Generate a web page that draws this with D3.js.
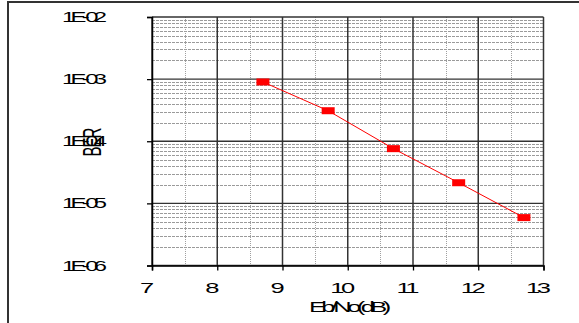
<!DOCTYPE html>
<html><head><meta charset="utf-8">
<script src="https://cdn.jsdelivr.net/npm/d3@7"></script>
<style>body{margin:0;background:#fff;}svg{display:block;}text{font-family:"Liberation Sans",Arial,sans-serif;fill:#000;}</style>
</head><body>
<svg id="c" width="579" height="323"></svg>
<script>
const ebno = [8.7, 9.7, 10.7, 11.7, 12.7];
const ber = [9.0e-4, 3.1e-4, 7.6e-5, 2.15e-5, 5.9e-6];
const xTicks = [7, 8, 9, 10, 11, 12, 13];
const yTicks = [1e-2, 1e-3, 1e-4, 1e-5, 1e-6];
const yTickLabels = ["1E-02", "1E-03", "1E-04", "1E-05", "1E-06"];
const xTitle = "Eb/No(dB)";
const yTitle = "BER";

const svg = d3.select("#c");
const L = 152, R = 543.5, T = 17, B = 265.5;
const x = d3.scaleLinear().domain([7, 13]).range([L, R]);
const y = d3.scaleLog().domain([1e-6, 1e-2]).range([B, T]);
const SX = 1.7;

// stretched text helper: centred at (cx, cy) with screen-space horizontal stretch
function stretchedText(parent, cx, cy, str, size, ls, rotate) {
  const g = parent.append("g").attr("transform", `translate(${cx},${cy}) scale(${SX},1)`);
  const t = g.append("text").attr("font-size", size).attr("letter-spacing", ls)
    .attr("text-anchor", "middle").attr("dy", (size * 0.36).toFixed(2)).text(str);
  if (rotate) t.attr("transform", "rotate(-90)");
  // compensate trailing letter-spacing
  t.attr("x", (rotate ? 1 : 1) * ls / 2);
  return t;
}

// outer frame
svg.append("rect").attr("x", 8).attr("y", 2).attr("width", 700).attr("height", 500)
  .attr("fill", "none").attr("stroke", "#333").attr("stroke-width", 2);

// minor horizontal grid
const minorY = [];
for (let e = -6; e < -2; e++) for (let m = 2; m <= 9; m++) minorY.push(m * Math.pow(10, e));
svg.append("g").selectAll("line").data(minorY).join("line")
  .attr("x1", L).attr("x2", R).attr("y1", d => Math.round(y(d)) + 0.5).attr("y2", d => Math.round(y(d)) + 0.5)
  .attr("stroke", "#9a9a9a").attr("stroke-width", 1).attr("stroke-dasharray", "3,1");

// minor vertical grid
const minorX = d3.range(7.5, 13, 1);
svg.append("g").selectAll("line").data(minorX).join("line")
  .attr("x1", d => Math.round(x(d)) + 0.5).attr("x2", d => Math.round(x(d)) + 0.5).attr("y1", T).attr("y2", B)
  .attr("stroke", "#a0a0a0").attr("stroke-width", 1).attr("stroke-dasharray", "1,1");

// major horizontal grid
svg.append("g").selectAll("line").data(yTicks).join("line")
  .attr("x1", L).attr("x2", R).attr("y1", d => y(d)).attr("y2", d => y(d))
  .attr("stroke", "#333").attr("stroke-width", 1.3);

// major vertical grid
svg.append("g").selectAll("line").data(xTicks).join("line")
  .attr("x1", d => x(d)).attr("x2", d => x(d)).attr("y1", T).attr("y2", B)
  .attr("stroke", "#333").attr("stroke-width", 1.5);

// axes
const xAxis = d3.axisBottom(x).tickValues(xTicks).tickSize(5).tickFormat("");
const gx = svg.append("g").attr("transform", `translate(0,${B})`).call(xAxis);
gx.select(".domain").attr("stroke", "#000").attr("stroke-width", 1.5);
gx.selectAll(".tick line").attr("stroke", "#000").attr("stroke-width", 1.3);
const yAxis = d3.axisLeft(y).tickValues(yTicks).tickSize(5).tickFormat("");
const gy = svg.append("g").attr("transform", `translate(${L},0)`).call(yAxis);
gy.select(".domain").attr("stroke", "#000").attr("stroke-width", 1.5);
gy.selectAll(".tick line").attr("stroke", "#000").attr("stroke-width", 1.3);

// tick labels
const labels = svg.append("g");
yTicks.forEach((d, i) => stretchedText(labels, 84.5, y(d), yTickLabels[i], 14, -2.7));
xTicks.forEach(d => stretchedText(labels, x(d) - 5, 287.5, String(d), 15, -2));

// titles
stretchedText(labels, 350, 306.5, xTitle, 15, -2.7);
stretchedText(labels, 91.5, 142, yTitle, 15, -1, true);

// series line
const pts = ebno.map((v, i) => [v, ber[i]]);
svg.append("path").datum(pts)
  .attr("fill", "none").attr("stroke", "#ff0000").attr("stroke-width", 1)
  .attr("d", d3.line().x(d => x(d[0])).y(d => y(d[1])));
// markers
svg.append("g").selectAll("rect").data(pts).join("rect")
  .attr("x", d => x(d[0]) - 6.5).attr("y", d => y(d[1]) - 3.5)
  .attr("width", 13).attr("height", 7).attr("fill", "#ff0000");
</script>
</body></html>
